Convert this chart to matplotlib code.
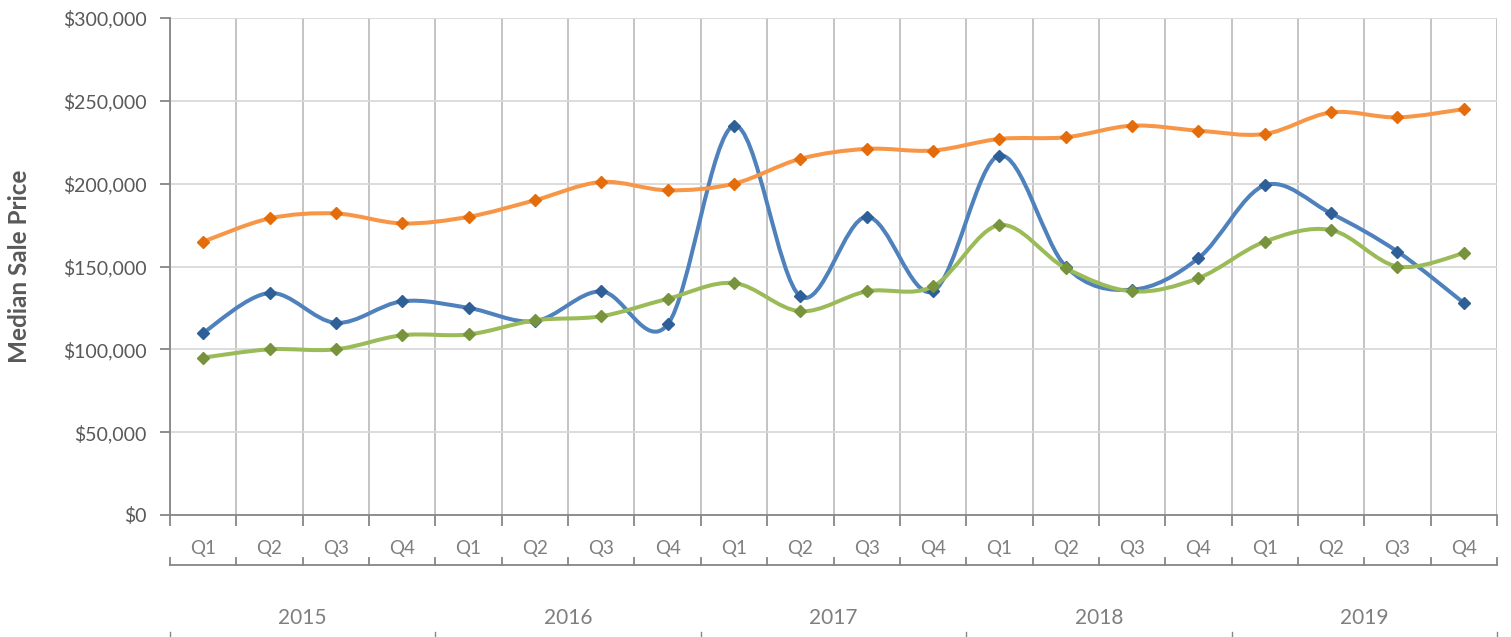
import matplotlib
matplotlib.use("Agg")
import matplotlib.pyplot as plt
from matplotlib.path import Path
from matplotlib.patches import PathPatch
from matplotlib.ticker import FixedLocator, FuncFormatter
import numpy as np

plt.rcParams['font.family'] = ['Lato', 'DejaVu Sans']

years = ["2015", "2016", "2017", "2018", "2019"]
quarters = ["Q1", "Q2", "Q3", "Q4"]
quarter_labels = quarters * len(years)

series_blue = [110000, 134000, 116000, 129000, 125000, 117000, 135000, 115000,
               235000, 132000, 180000, 135000, 217000, 150000, 136000, 155000,
               199000, 182000, 159000, 128000]
series_orange = [165000, 179000, 182000, 176000, 180000, 190000, 201000, 196000,
                 200000, 215000, 221000, 220000, 227000, 228000, 235000, 232000,
                 230000, 243000, 240000, 245000]
series_green = [95000, 100000, 100000, 108500, 109000, 117500, 120000, 130500,
                140000, 123000, 135000, 138000, 175000, 149000, 135000, 143000,
                165000, 172000, 150000, 158000]

y_ticks = [0, 50000, 100000, 150000, 200000, 250000, 300000]

W, H = 1511, 637
fig = plt.figure(figsize=(W / 100, H / 100), dpi=100)
left, right, top, bottom = 170, 1497, 18, 515
ax = fig.add_axes([left / W, (H - bottom) / H, (right - left) / W, (bottom - top) / H])

n = len(quarter_labels)
x = np.arange(n)
ax.set_xlim(-0.5, n - 0.5)
ax.set_ylim(0, 300000)


def smooth_path(xs, ys):
    pts = np.column_stack([xs, ys]).astype(float)
    verts = [pts[0]]
    codes = [Path.MOVETO]
    m = len(pts)
    for i in range(m - 1):
        p0 = pts[i - 1] if i > 0 else pts[i]
        p1 = pts[i]
        p2 = pts[i + 1]
        p3 = pts[i + 2] if i + 2 < m else pts[i + 1]
        c1 = p1 + (p2 - p0) / 6.0
        c2 = p2 - (p3 - p1) / 6.0
        verts += [c1, c2, p2]
        codes += [Path.CURVE4] * 3
    return Path(verts, codes)


styles = [
    (series_blue, "#4F81BD", "#2E5F96"),
    (series_orange, "#F79646", "#E46C0A"),
    (series_green, "#9BBB59", "#77933C"),
]
for k, (vals, lc, mc) in enumerate(styles):
    patch = PathPatch(smooth_path(x, vals), facecolor="none", edgecolor=lc,
                      lw=2.9, zorder=3 + k, capstyle="round", joinstyle="round")
    ax.add_patch(patch)
    ax.plot(x, vals, linestyle="none", marker="D", markersize=5.8,
            color=mc, markeredgecolor=mc, zorder=3.5 + k)

# Gridlines
ax.set_yticks(y_ticks)
ax.yaxis.set_major_formatter(FuncFormatter(lambda v, p: "${:,.0f}".format(v)))
ax.grid(axis="y", color="#D9D9D9", lw=1.3, zorder=0)
ax.xaxis.set_major_locator(FixedLocator(np.arange(-0.5, n, 1.0)))
ax.xaxis.set_minor_locator(FixedLocator(x))
ax.set_xticklabels([])
ax.set_xticklabels(quarter_labels, minor=True)
ax.grid(axis="x", which="major", color="#BFBFBF", lw=1.3, zorder=0)
ax.set_axisbelow(True)

ax.tick_params(axis="x", which="major", length=8, width=1.3, color="#868686")
ax.tick_params(axis="x", which="minor", length=0, pad=18, labelsize=13.5,
               labelcolor="#7F7F7F")
ax.tick_params(axis="y", length=7, width=1.3, color="#868686", labelsize=14,
               labelcolor="#595959", pad=10)

for s in ["top", "right"]:
    ax.spines[s].set_visible(False)
for s in ["left", "bottom"]:
    ax.spines[s].set_color("#868686")
    ax.spines[s].set_linewidth(1.3)

ax.set_ylabel("Median Sale Price", fontsize=17.5, fontweight="bold",
              color="#595959")
ax.yaxis.set_label_coords(-(left - 31) / (right - left), 0.5)

# Secondary (year) axis
tr = ax.get_xaxis_transform()
ah = bottom - top
y_line = -(565 - bottom) / ah
y_tick_top = -(558 - bottom) / ah
ax.plot([-0.5, n - 0.5], [y_line, y_line], color="#868686", lw=1.3,
        transform=tr, clip_on=False)
for b in np.arange(-0.5, n, 1.0):
    ax.plot([b, b], [y_tick_top, y_line], color="#868686", lw=1.3,
            transform=tr, clip_on=False)
y_year = -(618 - bottom) / ah
for j, yr in enumerate(years):
    ax.text(j * 4 + 1.5, y_year, yr, transform=tr, ha="center", va="center",
            fontsize=15, color="#7F7F7F")
y_bt0 = -(632 - bottom) / ah
y_bt1 = -(640 - bottom) / ah
for j in range(len(years) + 1):
    b = j * 4 - 0.5
    ax.plot([b, b], [y_bt0, y_bt1], color="#868686", lw=1.0,
            transform=tr, clip_on=False)

fig.savefig("out.png", dpi=100)
